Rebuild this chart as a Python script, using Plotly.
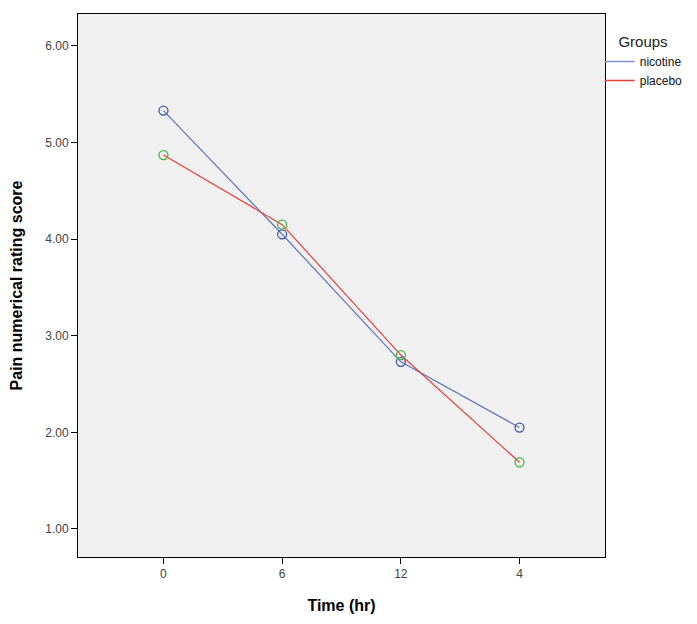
import plotly.graph_objects as go

time_labels = ["0", "6", "12", "4"]
nicotine = [5.33, 4.05, 2.73, 2.05]
placebo = [4.87, 4.15, 2.80, 1.69]
y_ticks = [1, 2, 3, 4, 5, 6]
y_tick_text = ["1.00", "2.00", "3.00", "4.00", "5.00", "6.00"]

font = "Liberation Sans, Arial, sans-serif"
xi = list(range(len(time_labels)))

fig = go.Figure()
fig.add_trace(go.Scatter(x=xi, y=nicotine, mode="lines+markers", showlegend=False,
                         line=dict(color="#5D72C2", width=1.2),
                         marker=dict(symbol="circle-open", size=9, color="#3E58AC", line=dict(width=1.3))))
fig.add_trace(go.Scatter(x=xi, y=placebo, mode="lines+markers", showlegend=False,
                         line=dict(color="#E8403A", width=1.2),
                         marker=dict(symbol="circle-open", size=9, color="#3DB845", line=dict(width=1.3))))
fig.add_trace(go.Scatter(x=[None], y=[None], mode="lines", name="nicotine",
                         line=dict(color="#7F8FCB", width=1.5)))
fig.add_trace(go.Scatter(x=[None], y=[None], mode="lines", name="placebo",
                         line=dict(color="#E8403A", width=1.5)))

fig.update_layout(
    width=689, height=616,
    margin=dict(l=70, r=92, t=6, b=67, autoexpand=False),
    paper_bgcolor="white", plot_bgcolor="#F0F0F0",
    font=dict(family=font, size=12, color="#444"),
    legend=dict(title=dict(text="    Groups", font=dict(size=15, color="#222")),
                x=0.99, xanchor="left", y=0.975, yanchor="top",
                font=dict(size=12, color="#111"), tracegroupgap=0,
                bgcolor="rgba(0,0,0,0)", itemwidth=30),
)
fig.update_xaxes(range=[-0.72, 3.72], tickmode="array", tickvals=xi, ticktext=time_labels,
                 showgrid=False, zeroline=False, showline=True, linecolor="black", linewidth=1,
                 mirror=True, ticks="outside", ticklen=6, tickcolor="black", automargin=False,
                 tickfont=dict(size=12, color="#444"),
                 title=dict(text="<b>Time (hr)</b>", font=dict(size=16, color="black"), standoff=19))
fig.update_yaxes(range=[0.71, 6.33], tickmode="array", tickvals=y_ticks, ticktext=y_tick_text,
                 showgrid=False, zeroline=False, showline=True, linecolor="black", linewidth=1,
                 mirror=True, ticks="outside", ticklen=6, tickcolor="black", automargin=False,
                 tickfont=dict(size=12, color="#444"),
                 title=dict(text="<b>Pain numerical rating score</b>", font=dict(size=16, color="black"), standoff=23))

fig.write_html("out.html")
